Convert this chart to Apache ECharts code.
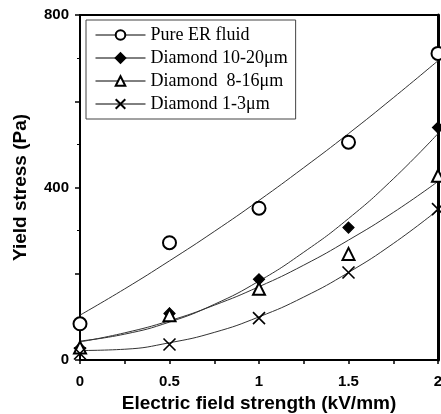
<!DOCTYPE html>
<html><head><meta charset="utf-8">
<script src="https://cdn.jsdelivr.net/npm/echarts@6/dist/echarts.min.js"></script>
<style>html,body{margin:0;padding:0;background:#fff}#c{width:441px;height:414px}</style>
</head><body><div id="c"></div>
<script>
// Measured data points
const fieldX = [0, 0.5, 1, 1.5, 2];
const pureER = [84, 272, 352, 505, 711];
const dia1020 = [27, 108, 187, 307, 539];
const dia816 = [29, 104, 165, 246, 427];
const dia13 = [15, 36, 97, 203, 350];
// Fitted curves
const fitX = [0, 0.25, 0.5, 0.75, 1, 1.25, 1.5, 1.75, 2];
const fitPure = [104, 165, 230, 298, 370, 446, 525, 608, 694];
const fit1020 = [44, 60, 88, 129, 183, 250, 328, 420, 525];
const fit816 = [42, 63, 91, 127, 170, 220, 278, 342, 414];
const fit13 = [22, 25, 40, 64, 100, 146, 203, 270, 348];
const names = ['Pure ER fluid', 'Diamond 10-20\u03bcm', 'Diamond  8-16\u03bcm', 'Diamond 1-3\u03bcm'];
const yTicks = [0, 400, 800];
const xTicks = [0, 0.5, 1, 1.5, 2];

const pts = [pureER, dia1020, dia816, dia13];
const fits = [fitPure, fit1020, fit816, fit13];
const symbols = ['emptyCircle', 'diamond', 'emptyTriangle', 'path://M0,0L10,10M10,0L0,10'];
const sizes = [13, 11, 12, 12];
const zip = (xs, ys) => xs.map((x, i) => [x, ys[i]]);

const series = [];
fits.forEach((f, i) => {
  series.push({
    name: 'fit' + i, type: 'line', data: zip(fitX, f), smooth: true, symbol: 'none',
    lineStyle: { color: '#333', width: 1 }, silent: true, z: 1
  });
});
pts.forEach((p, i) => {
  series.push({
    name: names[i], type: 'line', data: zip(fieldX, p),
    symbol: symbols[i], symbolSize: sizes[i], showSymbol: true,
    lineStyle: { width: 0, opacity: 0 },
    itemStyle: { color: '#000', borderColor: '#000', borderWidth: i === 3 ? 1.6 : 1.2 },
    z: 3
  });
});

const chart = echarts.init(document.getElementById('c'), null, { renderer: 'canvas' });
chart.setOption({
  animation: false,
  backgroundColor: '#fff',
  grid: { left: 80, right: 3, top: 15, bottom: 54, show: true, borderColor: '#000', borderWidth: 2,
    backgroundColor: 'transparent', containLabel: false, outerBoundsMode: 'none' },
  legend: {
    data: names, orient: 'vertical', left: 86, top: 20,
    itemWidth: 50, itemHeight: 12, itemGap: 5,
    padding: [6, 8, 6, 9],
    borderColor: '#444', borderWidth: 1,
    lineStyle: { width: 1, opacity: 1, color: '#000' },
    textStyle: { fontFamily: 'Liberation Serif', fontSize: 18, color: '#000' }
  },
  xAxis: [{
    type: 'value', min: 0, max: 2, interval: 0.25,
    name: 'Electric field strength (kV/mm)', nameLocation: 'middle', nameGap: 33,
    nameTextStyle: { fontFamily: 'Liberation Sans', fontWeight: 'bold', fontSize: 19, color: '#000' },
    axisLine: { lineStyle: { color: '#000', width: 2 } },
    axisTick: { show: true, length: 4, lineStyle: { color: '#000', width: 1.5 } },
    axisLabel: { margin: 14, color: '#000', fontFamily: 'Liberation Sans', fontWeight: 'bold', fontSize: 15,
      formatter: v => xTicks.some(t => Math.abs(t - v) < 1e-9) ? String(v) : '' },
    splitLine: { show: false }
  }],
  yAxis: [{
    type: 'value', min: 0, max: 800, interval: 200,
    name: 'Yield stress (Pa)', nameLocation: 'middle', nameGap: 50,
    nameTextStyle: { fontFamily: 'Liberation Sans', fontWeight: 'bold', fontSize: 19, color: '#000' },
    axisLine: { show: true, lineStyle: { color: '#000', width: 2 } },
    axisTick: { show: true, length: 5, lineStyle: { color: '#000', width: 1.5 } },
    minorTick: { show: true, splitNumber: 2, length: 3, lineStyle: { color: '#000' } },
    axisLabel: { margin: 11, color: '#000', fontFamily: 'Liberation Sans', fontWeight: 'bold', fontSize: 15,
      formatter: v => yTicks.includes(v) ? String(v) : '' },
    splitLine: { show: false }
  }, {
    type: 'value', min: 0, max: 800, position: 'right',
    axisLine: { show: true, lineStyle: { color: '#000', width: 3 } },
    axisTick: { show: false }, axisLabel: { show: false }, splitLine: { show: false }
  }],
  series: series
});
</script>
</body></html>
